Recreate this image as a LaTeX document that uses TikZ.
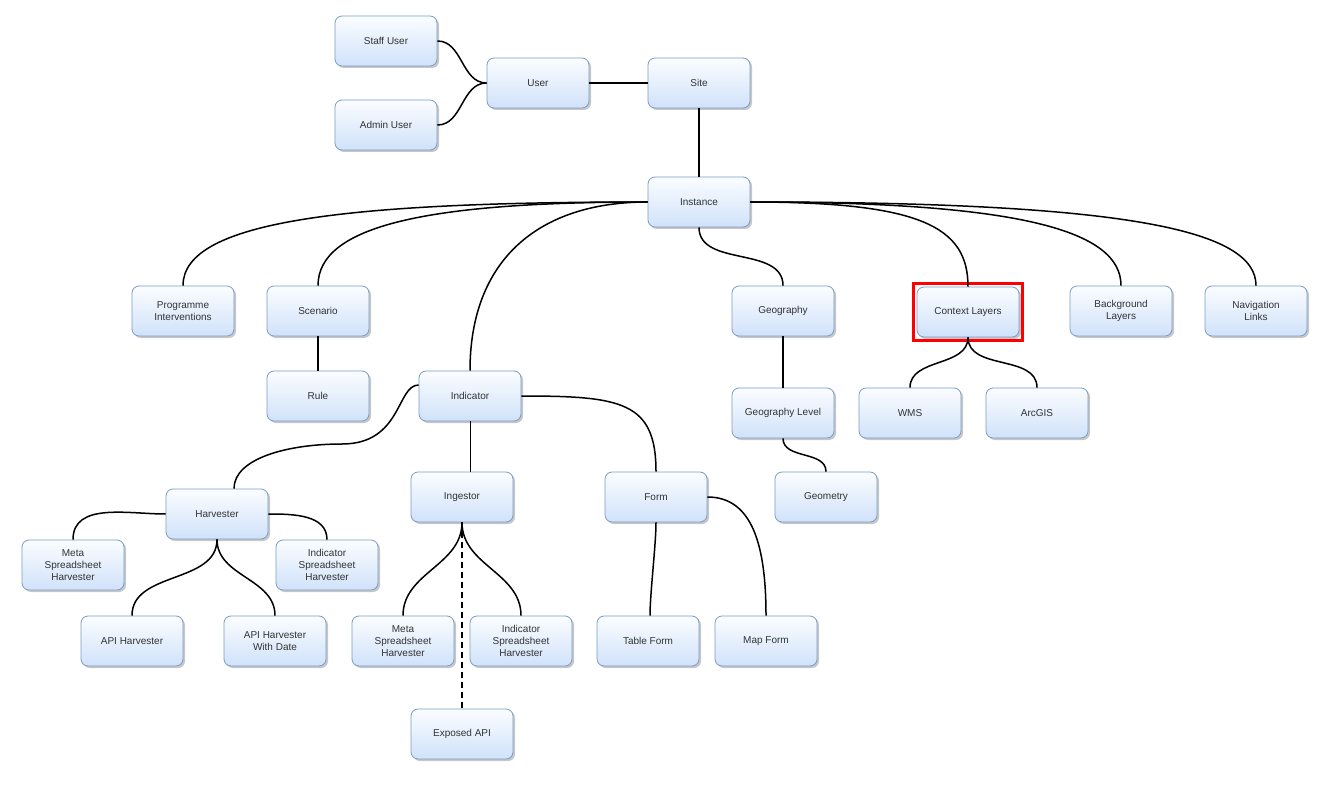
\documentclass[tikz,border=0pt]{standalone}
\usepackage{fontspec}
\setmainfont{Liberation Sans}
\usetikzlibrary{shadows,backgrounds}
\definecolor{nodeborder}{HTML}{7A9CC6}
\definecolor{nodetop}{HTML}{FBFDFF}
\definecolor{nodebottom}{HTML}{D0E2FA}
\definecolor{txt}{HTML}{333333}
\begin{document}
\begin{tikzpicture}[x=1pt,y=-1pt,
  box/.style={draw=nodeborder, line width=0.8pt, rounded corners=7pt,
    top color=nodetop, bottom color=nodebottom,
    minimum width=102pt, minimum height=50pt, align=center,
    font=\fontsize{10}{12}\selectfont, text=txt,
    drop shadow={shadow xshift=2pt,shadow yshift=-2pt,fill=black,opacity=0.22}},
  conn/.style={draw=black, line width=1.5pt},
  thinconn/.style={draw=black, line width=1pt},
  dashconn/.style={draw=black, line width=1.5pt, dash pattern=on 6pt off 4pt},
  hilite/.style={draw=red, line width=3pt}]
\useasboundingbox (0,0) rectangle (1330,786);
\fill[white] (0,0) rectangle (1330,786);

% nodes
\node[box] (staff) at (386,41) {Staff User};
\node[box] (admin) at (386,125) {Admin User};
\node[box] (user) at (538,83) {User};
\node[box] (site) at (699,83) {Site};
\node[box] (inst) at (699,202) {Instance};
\node[box] (prog) at (183,311) {Programme\\Interventions};
\node[box] (scen) at (318,311) {Scenario};
\node[box] (rule) at (318,396) {Rule};
\node[box] (ind) at (470,396) {Indicator};
\node[box] (geo) at (783,311) {Geography};
\node[box] (ctx) at (968,312) {Context Layers};
\node[box] (bg) at (1121,311) {Background\\Layers};
\node[box] (nav) at (1256,311) {Navigation\\Links};
\node[box] (wms) at (910,413) {WMS};
\node[box] (arc) at (1037,413) {ArcGIS};
\node[box] (geol) at (783,413) {Geography Level};
\node[box] (geom) at (826,497) {Geometry};
\node[box] (harv) at (217,514) {Harvester};
\node[box] (ingest) at (462,497) {Ingestor};
\node[box] (form) at (656,497) {Form};
\node[box] (mshL) at (73,565) {Meta\\Spreadsheet\\Harvester};
\node[box] (ishL) at (327,565) {Indicator\\Spreadsheet\\Harvester};
\node[box] (api) at (132,641) {API Harvester};
\node[box] (apid) at (275,641) {API Harvester\\With Date};
\node[box] (mshR) at (403,641) {Meta\\Spreadsheet\\Harvester};
\node[box] (ishR) at (521,641) {Indicator\\Spreadsheet\\Harvester};
\node[box] (tform) at (648,641) {Table Form};
\node[box] (mform) at (766,641) {Map Form};
\node[box] (expo) at (462,734) {Exposed API};

\draw[hilite] ([shift={(-3pt,3pt)}]ctx.north west) rectangle ([shift={(3pt,-3pt)}]ctx.south east);

\coordinate (hmid) at (342,444);

% connectors
\draw[conn] (staff.east) to[out=0,in=180] (user.west);
\draw[conn] (admin.east) to[out=0,in=180] (user.west);
\draw[conn] (user.east) -- (site.west);
\draw[conn] (site.south) -- (inst.north);

\draw[conn] (inst.west) to[out=180,in=90,out distance=300pt,in distance=65pt] (prog.north);
\draw[conn] (inst.west) to[out=180,in=90,out distance=220pt,in distance=60pt] (scen.north);
\draw[conn] (inst.west) to[out=180,in=90,out distance=110pt,in distance=110pt] (ind.north);
\draw[conn] (inst.south) to[out=-90,in=90] (geo.north);
\draw[conn] (inst.east) to[out=0,in=90,out distance=170pt,in distance=60pt] (ctx.north);
\draw[conn] (inst.east) to[out=0,in=90,out distance=270pt,in distance=55pt] (bg.north);
\draw[conn] (inst.east) to[out=0,in=90,out distance=380pt,in distance=55pt] (nav.north);

\draw[conn] (scen.south) -- (rule.north);
\draw[conn] (geo.south) -- (geol.north);
\draw[conn] (geol.south) to[out=-90,in=90] (geom.north);
\draw[conn] (ctx.south) to[out=-90,in=90] (wms.north);
\draw[conn] (ctx.south) to[out=-90,in=90] (arc.north);

\draw[conn] ([yshift=11pt]ind.west) to[out=180,in=0,out distance=22pt,in distance=60pt] (hmid)
  to[out=180,in=90,out distance=55pt,in distance=30pt] ([xshift=17pt]harv.north);
\draw[thinconn] (ind.south) -- ([xshift=8pt]ingest.north);
\draw[conn] (ind.east) to[out=0,in=90,out distance=100pt,in distance=70pt] (form.north);

\draw[conn] (harv.west) to[out=180,in=90] (mshL.north);
\draw[conn] (harv.east) to[out=0,in=90] (ishL.north);
\draw[conn] (harv.south) to[out=-90,in=90] (api.north);
\draw[conn] (harv.south) to[out=-90,in=90] (apid.north);

\draw[conn] (ingest.south) to[out=-90,in=90] (mshR.north);
\draw[conn] (ingest.south) to[out=-90,in=90] (ishR.north);
\draw[dashconn] (ingest.south) -- (expo.north);

\draw[conn] (form.south) to[out=-90,in=90,looseness=0.6] ([xshift=2pt]tform.north);
\draw[conn] (form.east) to[out=0,in=90,out distance=45pt,in distance=70pt] (mform.north);
\end{tikzpicture}
\end{document}
